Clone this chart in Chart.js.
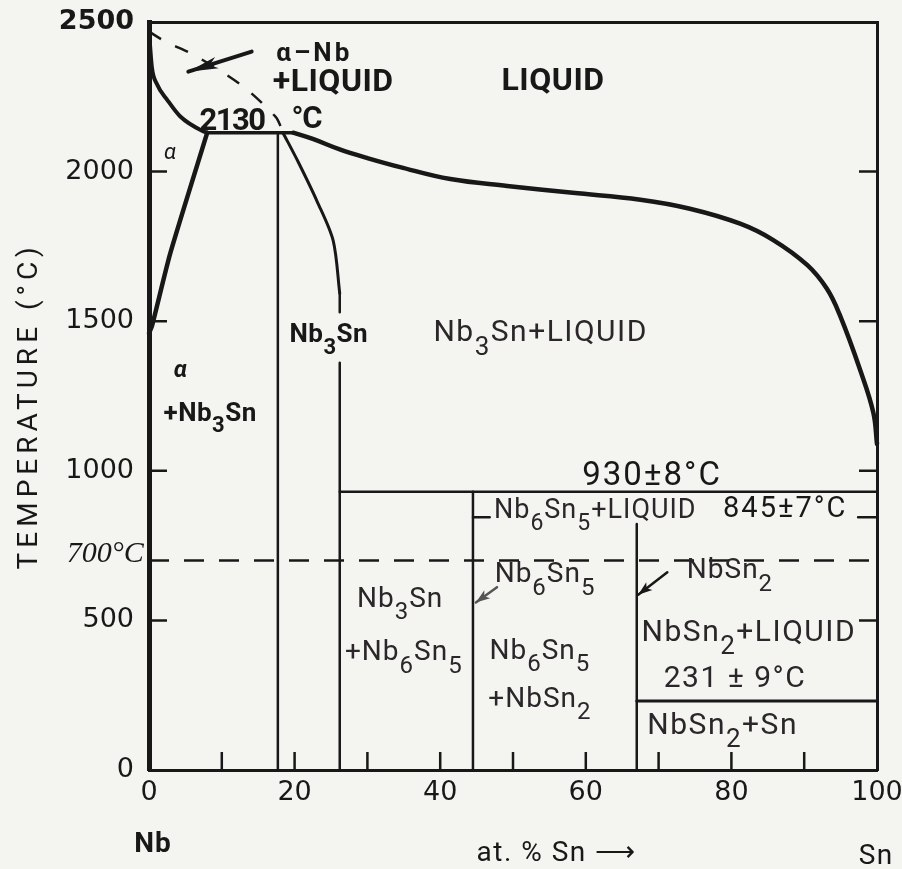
<!DOCTYPE html>
<html>
<head>
<meta charset="utf-8">
<script src="https://cdn.jsdelivr.net/npm/chart.js"></script>
<style>
  html, body { margin: 0; padding: 0; background: #f4f4f1; }
  #wrap { width: 902px; height: 869px; }
</style>
</head>
<body>
<div id="wrap"><canvas id="phase"></canvas></div>
<script>
// Nb–Sn phase diagram: composition (at.% Sn) against temperature (°C)
const xLabelValues = [0, 20, 40, 60, 80, 100];
const xMarkValues = [10, 20, 30, 40, 50, 60, 70, 80, 90];
const yLabelValues = [0, 500, 1000, 1500, 2000, 2500];
const yMarkValues = [500, 1000, 1500, 2000];

// phase boundaries as [at.% Sn, °C]; null breaks a line
const nbLiquidus = [[0, 2468], [0.4, 2348], [1.1, 2292], [2.5, 2240], [4.3, 2184], [7.4, 2135], [8.0, 2130]];
const alphaSolidus = [[8.0, 2130], [2.9, 1725], [0.4, 1483], [0, 1460]];
const peritectic2130 = [[8.0, 2130], [19.8, 2130]];
const metastableLiquidus = [[0, 2468], [2.3, 2434], [6.3, 2388], [12.8, 2287], [17.4, 2183], [18.2, 2145]];
const mainLiquidus = [[19.8, 2130], [22.5, 2109], [26.2, 2074], [29.9, 2046], [34.5, 2015], [41.4, 1975],
  [49.2, 1952], [58.2, 1929], [67.5, 1906], [74.3, 1876], [81.2, 1826], [85.7, 1772], [90.4, 1688],
  [93.1, 1609], [94.9, 1520], [97.7, 1336], [99.5, 1194], [100, 1090]];
const nb3snLeft = [[17.7, 2130], [17.7, 0]];
const nb3snRight = [[18.4, 2130], [20.5, 2032], [23.1, 1900], [25.3, 1769], [26.2, 1593]];
const nb3snRightLow = [[26.2, 1593], [26.2, 1530], null, [26.2, 1361], [26.2, 0]];
const peritectic930 = [[26.2, 930], [100, 930]];
const nb6sn5Line = [[44.5, 930], [44.5, 0]];
const peritectic845 = [[44.5, 845], [46.8, 845], null, [97.4, 845], [100, 845]];
const nbsn2Line = [[67.0, 822], [67.0, 0]];
const eutectic231 = [[67.0, 231], [100, 231]];
const isotherm700 = [[0, 700], [100, 700]];
const arrowAlphaNb = [[14.1, 2401], [5.4, 2334]];
const arrowNb6Sn5 = [[47.8, 611], [44.9, 560]];
const arrowNbSn2 = [[71.2, 661], [67.2, 586]];

// field names, "_" puts the next character in subscript: [text, at.% Sn, °C, style]
const fieldLabels = [
  ['α–Nb', 22.7, 2401, 'capsSpaced'],
  ['+LIQUID', 25.3, 2306, 'caps'],
  ['2130', 11.4, 2177, 'capsNum'],
  ['°C', 21.6, 2182, 'capsNum'],
  ['α', 2.9, 2068, 'greek'],
  ['LIQUID', 55.5, 2312, 'caps'],
  ['Nb_3Sn', 24.7, 1460, 'phase'],
  ['Nb_3Sn+LIQUID', 53.8, 1469, 'field'],
  ['α', 4.3, 1342, 'greekBold'],
  ['+Nb_3Sn', 8.4, 1198, 'phase'],
  ['930±8°C', 69.1, 992, 'temp'],
  ['Nb_6Sn_5+LIQUID', 61.3, 875, 'fieldSm'],
  ['845±7°C', 87.4, 880, 'tempSm'],
  ['Nb_3Sn', 34.5, 579, 'small'],
  ['+Nb_6Sn_5', 35.0, 400, 'small'],
  ['Nb_6Sn_5', 54.4, 660, 'small'],
  ['NbSn_2', 79.8, 675, 'small'],
  ['NbSn_2+LIQUID', 82.4, 467, 'field'],
  ['231 ± 9°C', 80.5, 313, 'field'],
  ['Nb_6Sn_5', 53.7, 405, 'small'],
  ['+NbSn_2', 53.7, 245, 'small'],
  ['NbSn_2+Sn', 78.8, 157, 'field']
];
const axisLabels = [
  ['Nb', 0.55, -242, 'axisBold'],
  ['at. % Sn ⟶', 56.0, -272, 'axis'],
  ['Sn', 99.9, -282, 'axis'],
  ['TEMPERATURE (°C)', -16.8, 1217, 'axisTitle'],
  ['700°C', -6.0, 730, 'note']
];

const ink = '#181818';
const softInk = '#2b2629';
const textStyles = {
  caps:       { weight: 'bold', size: 32, family: 'Roboto', spacing: 0.5 },
  capsSpaced: { weight: 'bold', size: 26, family: 'Roboto', spacing: 3 },
  capsNum:    { weight: 'bold', size: 31, family: 'Roboto', spacing: -1.5 },
  greek:      { weight: 'normal', size: 22, family: 'Roboto', italic: true },
  greekBold:  { weight: 'bold', size: 24, family: 'Roboto', italic: true },
  phase:      { weight: 'bold', size: 26, family: 'Roboto', spacing: 0.5 },
  field:      { weight: 'normal', size: 30, family: 'Roboto', spacing: 1.5, color: softInk },
  fieldSm:    { weight: 'normal', size: 27, family: 'Roboto', spacing: 1, color: softInk },
  temp:       { weight: 'normal', size: 33, family: 'Roboto', spacing: 2 },
  tempSm:     { weight: 'normal', size: 29, family: 'Roboto', spacing: 2 },
  small:      { weight: 'normal', size: 28, family: 'Roboto', spacing: 1, color: softInk },
  axis:       { weight: 'normal', size: 28, family: 'Roboto', spacing: 1.5 },
  axisBold:   { weight: 'bold', size: 28, family: 'Roboto', spacing: 1 },
  axisTitle:  { weight: 'normal', size: 28, family: 'Roboto', spacing: 5, rotate: -Math.PI / 2 },
  note:       { weight: 'normal', size: 30, family: 'Liberation Serif', italic: true }
};

function toPoints(pairs) {
  return pairs.map(p => p ? { x: p[0], y: p[1] } : { x: null, y: null });
}

function boundary(pairs, width, extra) {
  return Object.assign({
    data: toPoints(pairs),
    showLine: true,
    borderColor: ink,
    borderWidth: width,
    borderCapStyle: 'round',
    pointRadius: 0,
    fill: false,
    tension: 0,
    spanGaps: false,
    clip: false
  }, extra || {});
}

function splitRuns(text) {
  const runs = [];
  let buf = '';
  for (let i = 0; i < text.length; i++) {
    if (text[i] === '_') {
      if (buf) runs.push({ t: buf, sub: false });
      buf = '';
      runs.push({ t: text[i + 1], sub: true });
      i++;
    } else {
      buf += text[i];
    }
  }
  if (buf) runs.push({ t: buf, sub: false });
  return runs;
}

function fontOf(st, size) {
  return (st.italic ? 'italic ' : '') + st.weight + ' ' + size + 'px "' + st.family + '"';
}

// writes a label centred on a data point, with lowered subscripts
function drawLabel(ctx, text, px, py, st) {
  const runs = splitRuns(text);
  const subSize = Math.round(st.size * 0.85);
  ctx.save();
  ctx.letterSpacing = (st.spacing || 0) + 'px';
  let total = 0;
  runs.forEach(r => {
    ctx.font = fontOf(st, r.sub ? subSize : st.size);
    r.w = ctx.measureText(r.t).width;
    total += r.w;
  });
  ctx.translate(px, py);
  if (st.rotate) ctx.rotate(st.rotate);
  ctx.fillStyle = st.color || ink;
  ctx.textBaseline = 'alphabetic';
  ctx.textAlign = 'left';
  const base = st.size * 0.355;
  let cx = -total / 2;
  runs.forEach(r => {
    ctx.font = fontOf(st, r.sub ? subSize : st.size);
    ctx.fillText(r.t, cx, r.sub ? base + st.size * 0.45 : base);
    cx += r.w;
  });
  ctx.restore();
}

const labelPlugin = {
  id: 'phaseLabels',
  afterDraw(chart) {
    const { ctx, scales: { x, y } } = chart;
    fieldLabels.concat(axisLabels).forEach(([text, sx, t, style]) => {
      drawLabel(ctx, text, x.getPixelForValue(sx), y.getPixelForValue(t), textStyles[style]);
    });
  }
};

// tick marks point into the plot on the bottom, left and right edges
const innerTicks = {
  id: 'innerTicks',
  afterDatasetsDraw(chart) {
    const { ctx, chartArea: a, scales: { x, y } } = chart;
    ctx.save();
    ctx.strokeStyle = ink;
    ctx.lineWidth = 2.5;
    ctx.beginPath();
    xMarkValues.forEach(v => {
      const px = x.getPixelForValue(v);
      ctx.moveTo(px, a.bottom);
      ctx.lineTo(px, a.bottom - 18);
    });
    yMarkValues.forEach(v => {
      const py = y.getPixelForValue(v);
      ctx.moveTo(a.left, py);
      ctx.lineTo(a.left + 18, py);
      ctx.moveTo(a.right, py);
      ctx.lineTo(a.right - 18, py);
    });
    ctx.stroke();
    ctx.restore();
  }
};

const arrowHeads = {
  id: 'arrowHeads',
  afterDatasetsDraw(chart) {
    const ctx = chart.ctx;
    chart.data.datasets.forEach((ds, i) => {
      if (!ds.arrowHead) return;
      const pts = chart.getDatasetMeta(i).data;
      const a = pts[pts.length - 2], b = pts[pts.length - 1];
      const ang = Math.atan2(b.y - a.y, b.x - a.x);
      const [len, half] = ds.arrowHead;
      ctx.save();
      ctx.translate(b.x, b.y);
      ctx.rotate(ang);
      ctx.beginPath();
      ctx.moveTo(0, 0);
      ctx.lineTo(-len, -half);
      ctx.lineTo(-len * 0.75, 0);
      ctx.lineTo(-len, half);
      ctx.closePath();
      ctx.fillStyle = ds.borderColor;
      ctx.fill();
      ctx.restore();
    });
  }
};

const tickFont = { family: 'DejaVu Sans', size: 27 };

new Chart(document.getElementById('phase'), {
  type: 'scatter',
  data: {
    datasets: [
      boundary(nbLiquidus, 4, { cubicInterpolationMode: 'monotone' }),
      boundary(alphaSolidus, 4.5, { tension: 0.2 }),
      boundary(peritectic2130, 3.5),
      boundary(metastableLiquidus, 2.5, { tension: 0.3, borderDash: [14, 16], borderCapStyle: 'butt' }),
      boundary(mainLiquidus, 4.5, { tension: 0.4 }),
      boundary(nb3snLeft, 2.5),
      boundary(nb3snRight, 3, { tension: 0.3 }),
      boundary(nb3snRightLow, 2.5),
      boundary(peritectic930, 2.5),
      boundary(nb6sn5Line, 2.5),
      boundary(peritectic845, 2.5),
      boundary(nbsn2Line, 2.5),
      boundary(eutectic231, 3),
      boundary(isotherm700, 2.5, { borderDash: [20, 15], borderCapStyle: 'butt' }),
      boundary(arrowAlphaNb, 4, { arrowHead: [30, 6] }),
      boundary(arrowNb6Sn5, 2.5, { arrowHead: [14, 5], borderColor: '#555555' }),
      boundary(arrowNbSn2, 2.5, { arrowHead: [14, 5] })
    ]
  },
  options: {
    responsive: true,
    maintainAspectRatio: false,
    animation: false,
    devicePixelRatio: 1,
    layout: { padding: { top: 22, right: 25, left: 0, bottom: 0 } },
    plugins: {
      legend: { display: false },
      tooltip: { enabled: false }
    },
    scales: {
      x: {
        type: 'linear',
        position: 'bottom',
        min: 0,
        max: 100,
        grid: { display: false, drawTicks: false },
        border: { display: true, width: 3, color: ink },
        ticks: { font: tickFont, color: ink, padding: 7, maxRotation: 0, autoSkip: false, callback: v => String(v) },
        afterBuildTicks: s => { s.ticks = xLabelValues.map(v => ({ value: v })); },
        afterFit: s => { s.height = 99; s.paddingLeft = 0; s.paddingRight = 0; }
      },
      y: {
        type: 'linear',
        position: 'left',
        min: 0,
        max: 2500,
        grid: { display: false, drawTicks: false },
        border: { display: true, width: 5, color: ink },
        ticks: {
          color: ink,
          padding: 15,
          callback: v => String(v),
          font: c => Object.assign({}, tickFont, { weight: c.tick && c.tick.value === 2500 ? 'bold' : 'normal' })
        },
        afterBuildTicks: s => { s.ticks = yLabelValues.map(v => ({ value: v })); },
        afterFit: s => { s.width = 149; s.paddingTop = 0; s.paddingBottom = 0; }
      },
      x2: {
        type: 'linear',
        position: 'top',
        min: 0,
        max: 100,
        grid: { display: false, drawTicks: false },
        border: { display: true, width: 3, color: ink },
        ticks: { display: false },
        afterFit: s => { s.height = 0; s.paddingLeft = 0; s.paddingRight = 0; }
      },
      y2: {
        type: 'linear',
        position: 'right',
        min: 0,
        max: 2500,
        grid: { display: false, drawTicks: false },
        border: { display: true, width: 3, color: ink },
        ticks: { display: false },
        afterFit: s => { s.width = 0; s.paddingTop = 0; s.paddingBottom = 0; }
      }
    }
  },
  plugins: [innerTicks, arrowHeads, labelPlugin]
});
</script>
</body>
</html>
